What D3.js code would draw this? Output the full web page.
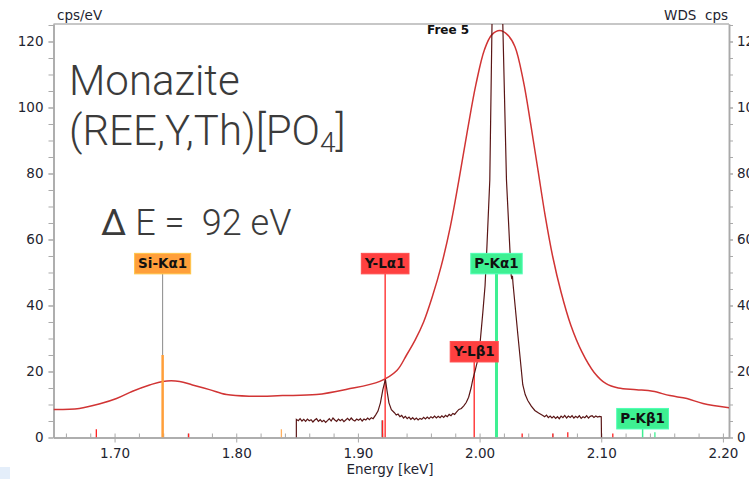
<!DOCTYPE html>
<html lang="en">
<head>
<meta charset="UTF-8">
<title>Monazite EDS / WDS spectrum</title>
<script src="https://d3js.org/d3.v7.min.js"></script>
<style>
  body { margin: 0; background: #fff; }
  .tick text { font-family: "DejaVu Sans", sans-serif; font-size: 13.5px; fill: #1e2430; }
  .axis path, .axis line { stroke: #a9a9a9; }
  .axis path { stroke-width: 1.5; }
  .unit { font-family: "DejaVu Sans", sans-serif; font-size: 13.5px; fill: #1e2430; }
  .big { font-family: Roboto, "Open Sans", sans-serif; font-weight: 300; fill: #3b3b3b; }
  .lbl { font-family: "DejaVu Sans", sans-serif; font-weight: bold; font-size: 13.5px; fill: #111; }
</style>
</head>
<body>
<script>
// EDS spectrum (smooth red curve): energy [keV], cps/eV
const edsE = [1.6498, 1.671, 1.688, 1.7016, 1.7148, 1.7288, 1.7395, 1.7535, 1.764, 1.778, 1.792, 1.811, 1.838, 1.866, 1.891,
  1.918, 1.932, 1.940, 1.947, 1.954, 1.961, 1.9685, 1.976, 1.983, 1.990, 1.997, 2.004, 2.010, 2.0166, 2.023, 2.029,
  2.036, 2.042, 2.048, 2.054, 2.060, 2.067, 2.075, 2.084, 2.094, 2.104, 2.114, 2.129, 2.1424, 2.1564, 2.1704, 2.1836, 2.2058];
const edsV = [8.5, 8.8, 10.2, 11.8, 14.0, 15.9, 17.0, 17.0, 15.9, 14.5, 13.0, 12.5, 12.7, 13.0, 14.6,
  17.0, 20.3, 25.0, 29.5, 35, 42.5, 52, 64, 78, 93, 107, 117.5, 122, 123.3, 122, 118.5,
  108, 95, 81, 67, 55, 44, 34, 26, 19.8, 16.3, 15.0, 14.5, 14.0, 12.7, 11.8, 10.3, 9.0];

// WDS scan "Free 5" (dark trace): energy [keV], cps
const wdsE = [1.8494, 1.8494, 1.851, 1.8525, 1.854, 1.8555, 1.857, 1.8585, 1.860, 1.8615, 1.863, 1.8645, 1.866, 1.8675,
  1.869, 1.8705, 1.872, 1.8735, 1.875, 1.8765, 1.878, 1.8795, 1.881, 1.8825, 1.884, 1.8855, 1.887, 1.8885, 1.890, 1.8915,
  1.893, 1.8945, 1.896, 1.8975, 1.899, 1.9005, 1.902, 1.9035, 1.905, 1.9065, 1.908, 1.9095, 1.911, 1.9125,
  1.9145, 1.9165, 1.9185, 1.9205, 1.9226, 1.9240, 1.9255, 1.9275, 1.930, 1.9315, 1.933, 1.9345, 1.936, 1.9375, 1.939,
  1.9405, 1.942, 1.9435, 1.945, 1.9465, 1.948, 1.9495, 1.951, 1.9525, 1.954, 1.9555, 1.957, 1.9585, 1.960, 1.9615,
  1.963, 1.9645, 1.966, 1.9675, 1.969, 1.9705, 1.972, 1.9735, 1.975, 1.9765, 1.978, 1.9795, 1.981, 1.983, 1.985, 1.987,
  1.989, 1.991, 1.993, 1.9944, 1.9965, 1.9985, 2.0005, 2.0026, 2.0045, 2.006, 2.0084, 2.0102,
  2.0125, 2.0165, 2.0191, 2.0221, 2.0245, 2.026, 2.0265, 2.027, 2.0275, 2.0315, 2.0355, 2.0375, 2.0396, 2.0425, 2.0454,
  2.0485, 2.052, 2.0535, 2.055, 2.0565, 2.058, 2.0595, 2.061, 2.0625, 2.064, 2.0655, 2.067, 2.0685, 2.070, 2.0715,
  2.073, 2.0745, 2.076, 2.0775, 2.079, 2.0805, 2.082, 2.0835, 2.085, 2.0865, 2.088, 2.0895, 2.091, 2.0925, 2.094,
  2.0955, 2.097, 2.0985, 2.100, 2.1002];
const wdsV = [0, 5.5, 5.1, 5.7, 5.0, 5.5, 4.9, 5.6, 5.1, 5.4, 4.7, 5.3, 5.7, 4.9, 5.4,
  4.8, 5.2, 4.6, 5.1, 5.7, 5.0, 5.9, 5.3, 4.9, 5.6, 5.1, 5.5, 4.8, 5.3, 5.8,
  5.2, 5.9, 5.3, 5.0, 5.6, 5.2, 5.7, 5.0, 5.6, 5.3, 5.9, 5.4, 6.0, 5.7,
  6.8, 8.0, 10.5, 14.5, 17.6, 14.0, 10.5, 8.4, 7.5, 6.8, 7.1, 6.3, 6.7, 5.9, 6.4,
  5.7, 6.2, 5.5, 6.0, 5.4, 5.9, 5.3, 5.8, 5.5, 6.1, 5.6, 6.2, 5.7, 6.3, 5.9,
  6.5, 5.9, 6.4, 6.0, 6.6, 6.1, 6.7, 6.3, 7.0, 6.6, 7.3, 7.0, 7.7, 8.5, 8.8, 9.6,
  10.6, 12.2, 15.0, 17.5, 20.5, 23.5, 29, 37.6, 46, 57.6, 78, 125,
  260, 260, 125, 78, 60, 49, 48, 49, 46.5, 31, 16, 13, 11.2, 9.5, 8.2,
  7.4, 6.7, 6.3, 6.8, 6.0, 6.5, 5.9, 6.4, 5.8, 6.3, 5.7, 6.5, 6.0, 6.7, 5.9,
  6.5, 6.1, 6.6, 5.9, 6.4, 6.0, 6.6, 5.8, 6.3, 6.0, 6.6, 5.9, 6.4, 6.6, 6.1,
  6.5, 6.2, 6.4, 6.3, 0];

// labelled KLM lines
const lineNames = ["Si-Kα1", "Y-Lα1", "P-Kα1", "Y-Lβ1", "P-Kβ1"];
const lineE = [1.7395, 1.9224, 2.0139, 1.9956, 2.1340];
const lineH = [25, 200, 200, 200, 200];      // marker height (cps/eV)
const lineBoxY = [55.8, 55.8, 55.8, 29.1, 8.8]; // label top (cps/eV)
const lineColor = ["#ff9f3a", "#ff4040", "#3ef092", "#ff4040", "#3ef092"];
const lineWidth = [2.5, 1.5, 3, 1.5, 1.5];

// unlabelled small markers at the baseline
const minorE = [1.6850, 1.7609, 1.8371, 1.9195, 1.9203, 2.0350, 2.0602, 2.0725, 2.1095, 2.1441];
const minorH = [2.5, 1.2, 2.5, 5.2, 5.2, 1.2, 1.2, 1.6, 1.2, 1.6];
const minorColor = ["#ff2020", "#ff2020", "#ffb060", "#b0b0b0", "#ff2020", "#ff2020", "#ff2020", "#ff2020", "#ff2020", "#3ef092"];

const xMajor = [1.70, 1.80, 1.90, 2.00, 2.10, 2.20];
const xMinor = d3.range(1.66, 2.205, 0.02);
const yMajor = [0, 20, 40, 60, 80, 100, 120];
const yMinor = d3.range(0, 126, 5);

const width = 749, height = 479;
const margin = { top: 24, right: 20, bottom: 41.5, left: 53.5 };

const svg = d3.select("body").append("svg")
  .attr("width", width).attr("height", height);

const x = d3.scaleLinear().domain([1.6498, 2.2050]).range([margin.left, width - margin.right]);
const y = d3.scaleLinear().domain([0, 125.3]).range([height - margin.bottom, margin.top]);

// small light-blue corner patch
svg.append("rect").attr("x", 0).attr("y", 467).attr("width", 10).attr("height", 12).attr("fill", "#e4eefa");

svg.append("clipPath").attr("id", "plot")
  .append("rect").attr("x", margin.left).attr("y", margin.top)
  .attr("width", x.range()[1] - margin.left).attr("height", y(0) - margin.top);

// top border
svg.append("line")
  .attr("x1", margin.left).attr("x2", x.range()[1])
  .attr("y1", margin.top).attr("y2", margin.top)
  .attr("stroke", "#b5b5b5").attr("stroke-width", 1.5);

// axes
const fmt2 = d3.format(".2f");
svg.append("g").attr("class", "axis")
  .attr("transform", `translate(0,${y(0)})`)
  .call(d3.axisBottom(x).tickValues(xMinor).tickSize(-4).tickSizeOuter(0).tickFormat(""));
svg.append("g").attr("class", "axis")
  .attr("transform", `translate(0,${y(0)})`)
  .call(d3.axisBottom(x).tickValues(xMajor).tickSize(5).tickSizeOuter(0).tickPadding(6).tickFormat(fmt2));

svg.append("g").attr("class", "axis")
  .attr("transform", `translate(${margin.left},0)`)
  .call(d3.axisLeft(y).tickValues(yMinor).tickSize(5).tickSizeOuter(0).tickFormat(""));
svg.append("g").attr("class", "axis")
  .attr("transform", `translate(${margin.left},0)`)
  .call(d3.axisLeft(y).tickValues(yMajor).tickSize(5).tickSizeOuter(0).tickPadding(5));

svg.append("g").attr("class", "axis")
  .attr("transform", `translate(${x.range()[1]},0)`)
  .call(d3.axisRight(y).tickValues(yMinor).tickSize(4).tickSizeOuter(0).tickFormat(""));
svg.append("g").attr("class", "axis")
  .attr("transform", `translate(${x.range()[1]},0)`)
  .call(d3.axisRight(y).tickValues(yMajor).tickSize(4).tickSizeOuter(0).tickPadding(4));

svg.selectAll(".axis .domain").attr("stroke", "#a9a9a9");

// axis titles
svg.append("text").attr("class", "unit").attr("x", 57).attr("y", 20).text("cps/eV");
svg.append("text").attr("class", "unit").attr("x", 728).attr("y", 20)
  .attr("text-anchor", "end").attr("xml:space", "preserve").text("WDS  cps");
svg.append("text").attr("class", "unit").attr("x", 390).attr("y", 474)
  .attr("text-anchor", "middle").text("Energy [keV]");

// big annotations
svg.append("text").attr("class", "big").attr("x", 69).attr("y", 95)
  .style("font-size", "42px").text("Monazite");
const f = svg.append("text").attr("class", "big").attr("x", 69).attr("y", 145).style("font-size", "42px");
f.append("tspan").text("(REE,Y,Th)[PO");
f.append("tspan").attr("dy", 7).style("font-size", "28px").text("4");
f.append("tspan").attr("dy", -7).text("]");
const de = svg.append("text").attr("class", "big").attr("x", 101).attr("y", 235)
  .attr("xml:space", "preserve").style("font-size", "36px");
de.append("tspan").style("font-weight", 400).text("Δ");
de.append("tspan").text(" E =  92 eV");

const g = svg.append("g").attr("clip-path", "url(#plot)");

// small baseline markers
g.selectAll(".minor").data(minorE).enter().append("line")
  .attr("x1", d => x(d)).attr("x2", d => x(d))
  .attr("y1", y(0)).attr("y2", (d, i) => y(minorH[i]))
  .attr("stroke", (d, i) => minorColor[i]).attr("stroke-width", 1.3);

// EDS spectrum
const eds = edsE.map((e, i) => [e, edsV[i]]);
g.append("path").datum(eds)
  .attr("fill", "none").attr("stroke", "#d13434").attr("stroke-width", 1.5)
  .attr("d", d3.line().x(d => x(d[0])).y(d => y(d[1])).curve(d3.curveCatmullRom.alpha(0.5)));

// labelled marker lines
const boxH = 20.5;
lineE.forEach((e, i) => {
  const boxBottom = y(lineBoxY[i]) + boxH;
  const top = Math.max(y(lineH[i]), boxBottom);
  if (top > boxBottom) {
    g.append("line").attr("x1", x(e)).attr("x2", x(e))
      .attr("y1", boxBottom).attr("y2", top)
      .attr("stroke", "#8a8a8a").attr("stroke-width", 1);
  }
  g.append("line").attr("x1", x(e)).attr("x2", x(e))
    .attr("y1", y(0)).attr("y2", top)
    .attr("stroke", lineColor[i]).attr("stroke-width", lineWidth[i]);
});

// WDS scan
const wds = wdsE.map((e, i) => [e, wdsV[i]]);
g.append("path").datum(wds)
  .attr("fill", "none").attr("stroke", "#5a1616").attr("stroke-width", 1.2)
  .attr("d", d3.line().x(d => x(d[0])).y(d => y(d[1])));

svg.append("text").attr("x", 427).attr("y", 34)
  .attr("font-family", "DejaVu Sans, sans-serif").attr("font-weight", "bold")
  .attr("font-size", 12).attr("fill", "#111").text("Free 5");

// label boxes
lineE.forEach((e, i) => {
  const lg = svg.append("g");
  const r = lg.append("rect");
  const t = lg.append("text").attr("class", "lbl")
    .attr("x", x(e)).attr("y", y(lineBoxY[i]) + 15).attr("text-anchor", "middle")
    .text(lineNames[i]);
  const w = t.node().getComputedTextLength() + 7;
  r.attr("x", x(e) - w / 2).attr("y", y(lineBoxY[i]))
    .attr("width", w).attr("height", boxH)
    .attr("fill", lineColor[i]).attr("stroke", d3.color(lineColor[i]).brighter(0.6))
    .attr("stroke-width", 1);
});
</script>
</body>
</html>
